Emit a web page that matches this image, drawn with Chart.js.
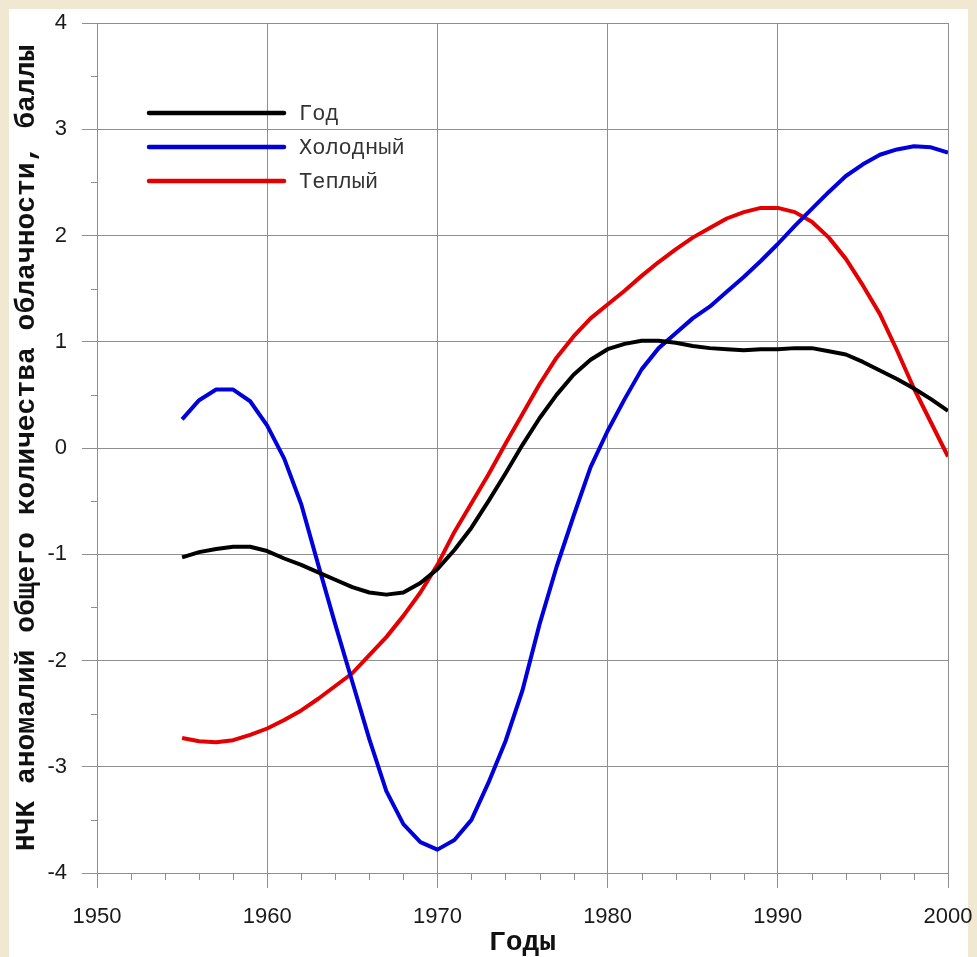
<!DOCTYPE html>
<html>
<head>
<meta charset="utf-8">
<script src="https://cdn.jsdelivr.net/npm/chart.js@4/dist/chart.umd.min.js"></script>
<style>
  html, body { margin: 0; padding: 0; background: #f0e8d0; overflow: hidden; }
  .panel { position: absolute; left: 9px; top: 9px; width: 959px; height: 948px; background: #fff; }
  #cloudChart { position: absolute; left: 0; top: 0; }
</style>
</head>
<body>
<div class="panel"></div>
<canvas id="cloudChart" width="977" height="957"></canvas>
<script>
  // years of the smoothed series
  const years = [
    1955, 1956, 1957, 1958, 1959, 1960, 1961, 1962, 1963, 1964,
    1965, 1966, 1967, 1968, 1969, 1970, 1971, 1972, 1973, 1974,
    1975, 1976, 1977, 1978, 1979, 1980, 1981, 1982, 1983, 1984,
    1985, 1986, 1987, 1988, 1989, 1990, 1991, 1992, 1993, 1994,
    1995, 1996, 1997, 1998, 1999, 2000
  ];

  // Год
  const godValues = [
    -1.03, -0.98, -0.95, -0.93, -0.93, -0.97, -1.04, -1.10, -1.17, -1.24,
    -1.31, -1.36, -1.38, -1.36, -1.27, -1.14, -0.96, -0.75, -0.50, -0.24,
    0.03, 0.28, 0.50, 0.69, 0.83, 0.93, 0.98, 1.01, 1.01, 0.99,
    0.96, 0.94, 0.93, 0.92, 0.93, 0.93, 0.94, 0.94, 0.91, 0.88,
    0.81, 0.73, 0.65, 0.56, 0.46, 0.35
  ];

  // Холодный
  const coldValues = [
    0.27, 0.45, 0.55, 0.55, 0.44, 0.21, -0.10, -0.53, -1.10, -1.66,
    -2.20, -2.74, -3.23, -3.54, -3.71, -3.78, -3.69, -3.50, -3.15, -2.76,
    -2.28, -1.66, -1.12, -0.64, -0.18, 0.16, 0.46, 0.74, 0.94, 1.08,
    1.22, 1.33, 1.47, 1.61, 1.76, 1.92, 2.09, 2.25, 2.41, 2.56,
    2.67, 2.76, 2.81, 2.84, 2.83, 2.78
  ];

  // Теплый
  const warmValues = [
    -2.73, -2.76, -2.77, -2.75, -2.70, -2.64, -2.56, -2.47, -2.36, -2.24,
    -2.12, -1.95, -1.78, -1.58, -1.36, -1.10, -0.79, -0.52, -0.25, 0.04,
    0.32, 0.60, 0.85, 1.05, 1.22, 1.35, 1.48, 1.62, 1.75, 1.87,
    1.98, 2.07, 2.16, 2.22, 2.26, 2.26, 2.22, 2.13, 1.98, 1.78,
    1.53, 1.26, 0.92, 0.56, 0.24, -0.08
  ];

  const seriesNames = ['Год', 'Холодный', 'Теплый'];
  const xMajorTicks = [1950, 1960, 1970, 1980, 1990, 2000];
  const xMinorTicks = [1952, 1954, 1956, 1958, 1962, 1964, 1966, 1968, 1972, 1974, 1976, 1978,
                       1982, 1984, 1986, 1988, 1992, 1994, 1996, 1998];
  const yMajorTicks = [-4, -3, -2, -1, 0, 1, 2, 3, 4];
  const yMinorTicks = [-3.5, -2.5, -1.5, -0.5, 0.5, 1.5, 2.5, 3.5];

  const xTitle = 'Годы';
  const yTitle = 'НЧК аномалий общего количества облачности, баллы';

  const gridGrey = '#8f8f8f';
  const lineColors = ['#000000', '#0000dc', '#e40000'];

  // short minor tick marks outside the plot, placed through the scales
  const minorTicksPlugin = {
    id: 'minorTicks',
    afterDraw(chart) {
      const { ctx, chartArea, scales } = chart;
      ctx.save();
      ctx.strokeStyle = gridGrey;
      ctx.lineWidth = 1;
      ctx.beginPath();
      xMinorTicks.forEach(v => {
        const px = Math.round(scales.x.getPixelForValue(v)) + 0.5;
        ctx.moveTo(px, chartArea.bottom);
        ctx.lineTo(px, chartArea.bottom + 7);
      });
      yMinorTicks.forEach(v => {
        const py = Math.round(scales.y.getPixelForValue(v)) + 0.5;
        ctx.moveTo(chartArea.left - 6, py);
        ctx.lineTo(chartArea.left, py);
      });
      ctx.stroke();
      ctx.restore();
    }
  };

  // legend drawn inside the plot, upper left
  const innerLegendPlugin = {
    id: 'innerLegend',
    afterDatasetsDraw(chart) {
      const { ctx, chartArea } = chart;
      const x0 = chartArea.left + 52;
      const y0 = chartArea.top + 90;
      ctx.save();
      ctx.font = '22px "Liberation Mono", "Courier New", monospace';
      ctx.textBaseline = 'middle';
      chart.data.datasets.forEach((ds, i) => {
        const y = y0 + i * 34;
        ctx.strokeStyle = ds.borderColor;
        ctx.lineWidth = 4.5;
        ctx.lineCap = 'round';
        ctx.beginPath();
        ctx.moveTo(x0, y);
        ctx.lineTo(x0 + 135, y);
        ctx.stroke();
        ctx.fillStyle = '#333';
        ctx.fillText(ds.label, x0 + 150, y + 1);
      });
      ctx.restore();
    }
  };

  function makeDataset(i, values) {
    return {
      label: seriesNames[i],
      data: values,
      borderColor: lineColors[i],
      backgroundColor: lineColors[i],
      borderWidth: 4,
      borderJoinStyle: 'round',
      pointRadius: 0,
      tension: 0,
      fill: false
    };
  }

  const tickFont = { family: '"Liberation Sans", Arial, sans-serif', size: 22 };
  const titleFont = { family: '"Liberation Mono", "Courier New", monospace', size: 28, weight: 'bold', lineHeight: 1 };

  new Chart(document.getElementById('cloudChart'), {
    type: 'line',
    data: {
      labels: years,
      datasets: [
        makeDataset(0, godValues),
        makeDataset(1, coldValues),
        makeDataset(2, warmValues)
      ]
    },
    options: {
      responsive: false,
      animation: false,
      events: [],
      layout: { padding: { top: 23, right: 29, bottom: 0, left: 0 } },
      plugins: {
        legend: { display: false },
        tooltip: { enabled: false }
      },
      scales: {
        x: {
          type: 'linear',
          min: 1950,
          max: 2000,
          afterBuildTicks: (scale) => { scale.ticks = xMajorTicks.map(v => ({ value: v })); },
          afterFit: (scale) => {
            // keep the plot frame fixed; end labels may overhang
            scale.height = 84;
            scale.paddingLeft = 0;
            scale.paddingRight = 0;
          },
          grid: { color: gridGrey, lineWidth: 1, tickLength: 15 },
          border: { color: gridGrey, width: 1 },
          ticks: {
            font: tickFont,
            color: '#1a1a1a',
            padding: 16,
            maxRotation: 0,
            autoSkip: false,
            callback: (v) => String(v)
          },
          title: {
            display: true,
            text: xTitle,
            font: titleFont,
            color: '#111',
            padding: { top: 0, bottom: 0 }
          }
        },
        y: {
          type: 'linear',
          min: -4,
          max: 4,
          afterBuildTicks: (scale) => { scale.ticks = yMajorTicks.map(v => ({ value: v })); },
          afterFit: (scale) => {
            scale.width = 97;
            scale.paddingTop = 0;
            scale.paddingBottom = 0;
          },
          grid: { color: gridGrey, lineWidth: 1, tickLength: 15 },
          border: { color: gridGrey, width: 1 },
          ticks: {
            font: tickFont,
            color: '#1a1a1a',
            padding: 15,
            autoSkip: false
          },
          title: {
            display: true,
            text: yTitle,
            font: titleFont,
            color: '#111',
            padding: { top: 13, bottom: 0 }
          }
        }
      }
    },
    plugins: [minorTicksPlugin, innerLegendPlugin]
  });
</script>
</body>
</html>
